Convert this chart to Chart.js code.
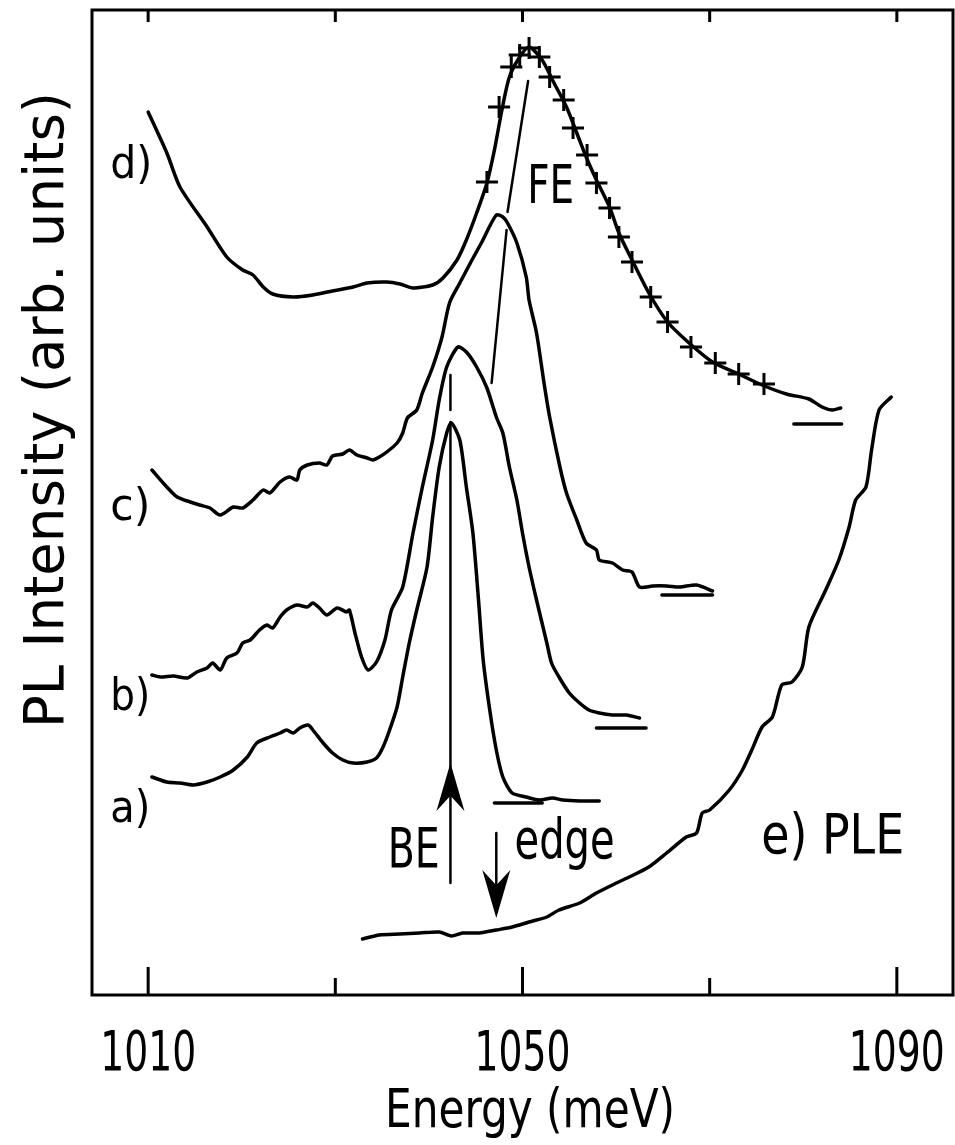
<!DOCTYPE html>
<html>
<head>
<meta charset="utf-8">
<script src="https://cdn.jsdelivr.net/npm/chart.js@4.4.1/dist/chart.umd.min.js"></script>
<style>
  html, body { margin: 0; padding: 0; background: #fff; overflow: hidden; }
  canvas { display: block; }
</style>
</head>
<body>
<canvas id="pl" width="955" height="1145"></canvas>
<script>
// energy in meV, intensity in arbitrary units (0 = bottom of the frame)
const tickValues = [1010, 1030, 1050, 1070, 1090];
const labeledTicks = [1010, 1050, 1090];

const curveA = [[1010.4,21.8],[1012.0,21.3],[1013.4,21.2],[1014.8,21.0],[1016.3,21.3],[1017.7,21.8],
  [1019.1,22.5],[1020.6,23.8],[1021.6,25.2],[1023.0,25.8],[1024.1,26.2],[1024.8,26.5],[1025.5,26.2],
  [1026.2,26.7],[1027.1,27.0],[1027.6,26.5],[1028.7,25.2],[1029.7,24.2],[1030.8,23.5],[1031.9,23.2],
  [1033.4,23.3],[1034.4,23.7],[1035.1,24.8],[1035.8,26.5],[1036.6,28.8],[1037.2,31.8],[1037.9,35.2],
  [1038.7,38.5],[1039.8,42.8],[1040.4,47.8],[1041.1,52.8],[1041.9,56.2],[1042.4,57.2],[1043.3,55.5],
  [1044.0,50.8],[1044.7,46.2],[1045.3,39.5],[1045.8,33.5],[1046.5,28.5],[1047.2,24.5],[1047.9,21.8],
  [1048.9,20.2],[1050.4,19.8],[1051.8,19.5],[1053.2,19.7],[1054.3,19.5],[1056.1,19.4],[1058.2,19.4]];

const curveB = [[1010.4,32.0],[1011.3,31.8],[1012.7,31.9],[1014.2,31.7],[1015.2,32.3],[1016.3,32.7],
  [1016.9,33.2],[1017.7,32.5],[1018.4,33.7],[1019.5,34.2],[1020.1,35.2],[1020.9,35.5],[1021.9,36.5],
  [1022.7,37.0],[1023.3,36.7],[1024.1,37.8],[1024.8,38.5],[1025.9,39.0],[1027.0,38.8],[1027.6,39.2],
  [1028.3,38.7],[1029.1,38.0],[1030.2,38.7],[1031.2,38.3],[1031.5,38.5],[1032.1,36.2],[1032.8,33.8],
  [1033.5,32.5],[1034.4,33.3],[1035.3,35.5],[1036.0,38.5],[1037.2,40.8],[1038.3,46.2],[1039.3,50.8],
  [1040.4,55.5],[1041.1,59.5],[1041.9,62.8],[1043.1,64.8],[1044.0,64.3],[1045.1,62.8],[1046.2,60.7],
  [1047.2,57.8],[1047.9,56.2],[1048.6,52.8],[1049.4,49.5],[1050.0,46.2],[1050.7,42.8],[1051.5,39.5],
  [1052.6,35.2],[1053.1,33.2],[1053.9,31.8],[1055.0,30.2],[1056.1,29.2],[1057.1,28.5],[1058.2,28.2],
  [1059.6,28.0],[1061.1,28.0],[1062.5,27.7]];

const curveC = [[1010.4,52.5],[1012.0,50.8],[1013.1,49.8],[1014.5,49.3],[1015.5,49.0],[1016.6,48.7],
  [1017.7,48.0],[1019.1,48.8],[1020.1,48.7],[1021.2,49.5],[1022.3,50.5],[1023.0,50.2],[1024.1,51.3],
  [1025.1,51.8],[1025.9,51.5],[1026.2,52.5],[1027.0,53.0],[1028.3,53.2],[1029.1,53.0],[1029.7,53.9],
  [1030.8,54.1],[1031.5,54.5],[1032.3,54.0],[1033.4,53.7],[1034.0,53.5],[1034.7,53.8],[1035.5,54.3],
  [1036.6,55.2],[1037.2,56.2],[1037.7,57.7],[1038.7,58.5],[1039.3,60.2],[1040.4,62.8],[1041.4,65.8],
  [1042.2,69.2],[1043.3,71.2],[1044.6,73.5],[1045.6,75.2],[1047.2,78.0],[1047.9,77.8],[1048.4,77.2],
  [1049.4,75.2],[1050.4,71.8],[1050.7,69.5],[1051.5,66.2],[1052.3,61.2],[1052.9,57.8],[1054.0,52.8],
  [1054.7,50.2],[1055.8,47.5],[1056.8,45.2],[1057.9,44.5],[1058.2,43.5],[1059.6,43.2],[1060.7,42.5],
  [1061.7,42.3],[1062.5,40.8],[1063.9,40.9],[1065.4,40.9],[1066.8,40.8],[1068.6,41.0],[1070.3,40.4]];

const curveD = [[1010.0,88.3],[1012.0,84.2],[1013.4,80.8],[1016.3,76.8],[1018.4,73.8],[1020.1,72.5],
  [1021.2,72.0],[1022.3,70.8],[1023.3,70.1],[1025.5,69.8],[1027.6,70.0],[1029.7,70.4],[1031.9,70.8],
  [1033.4,71.2],[1035.5,71.3],[1036.9,71.1],[1038.3,70.7],[1040.4,71.0],[1041.5,71.7],[1043.0,73.5],
  [1044.0,75.5],[1045.1,78.2],[1046.2,81.2],[1047.0,84.5],[1047.8,88.5],[1048.6,91.8],[1049.7,93.8],
  [1050.7,94.8],[1052.1,93.5],[1053.2,91.5],[1054.7,88.8],[1055.8,86.2],[1056.8,83.8],[1057.9,81.5],
  [1059.3,78.8],[1060.3,76.2],[1061.7,73.5],[1063.5,70.2],[1065.5,67.3],[1067.8,65.2],[1070.3,63.3],
  [1073.1,62.1],[1075.6,61.0],[1078.2,60.1],[1080.6,59.6],[1082.0,58.8],[1083.1,58.5],[1084.0,58.7]];

const fitD = [[1046.2,81.3],[1047.5,88.8],[1048.8,92.8],[1049.7,94.0],[1050.7,94.7],[1051.8,93.8],
  [1052.9,91.8],[1054.4,89.5],[1055.4,86.7],[1056.9,84.0],[1057.9,81.2],[1059.3,78.7],[1060.3,75.8],
  [1061.7,73.3],[1063.7,69.8],[1065.5,67.3],[1068.0,64.8],[1070.6,63.2],[1073.1,62.1],[1075.8,61.1]];

const curveE = [[1032.9,5.6],[1034.7,6.0],[1036.9,6.1],[1039.0,6.2],[1041.1,6.3],[1042.4,5.9],
  [1043.6,6.2],[1045.4,6.2],[1047.2,6.5],[1048.9,6.8],[1050.7,7.3],[1052.6,7.8],[1053.9,8.5],
  [1056.1,9.2],[1057.9,10.2],[1059.6,11.0],[1061.4,11.8],[1063.5,12.8],[1065.4,14.2],[1067.5,15.8],
  [1068.6,16.2],[1069.2,18.2],[1070.0,18.5],[1072.1,20.5],[1073.5,22.5],[1074.5,24.5],[1075.6,26.8],
  [1076.7,27.8],[1077.7,31.0],[1078.8,31.3],[1079.9,32.8],[1080.6,36.8],[1082.4,40.5],[1083.8,43.5],
  [1084.9,46.8],[1085.6,49.5],[1086.7,50.8],[1087.3,54.5],[1088.1,58.5],[1089.4,59.8]];

// zero levels under each spectrum
const zeroA = [[1047.0,19.2],[1052.1,19.2]];
const zeroB = [[1057.9,26.7],[1063.2,26.7]];
const zeroC = [[1064.9,40.0],[1070.3,40.0]];
const zeroD = [[1079.0,57.1],[1084.1,57.1]];

// peak markers and arrows
const feUpper = [[1050.6,91.4],[1048.4,78.3]];
const feLower = [[1048.3,76.5],[1046.7,61.2]];
const beTick = [[1042.3,62.0],[1042.3,58.5]];
const beShaft = [[1042.3,57.3],[1042.3,11.2]];
const edgeShaft = [[1047.2,16.2],[1047.2,9.0]];
const arrowHeads = [{x: 1042.3, y: 23.2, dir: 1}, {x: 1047.2, y: 7.7, dir: -1}];

const FAMILY = "'Liberation Sans Narrow', 'DejaVu Sans Condensed', 'Liberation Sans', sans-serif";

// text labels: left edge energy, baseline intensity, cap height px, width px
const labels = [
  {text: 'd)', x: 1005.95, y: 81.7, cap: 32, w: 42},
  {text: 'c)', x: 1005.95, y: 47.5, cap: 32, w: 40},
  {text: 'b)', x: 1005.95, y: 28.5, cap: 32, w: 40},
  {text: 'a)', x: 1005.95, y: 17.3, cap: 32, w: 40},
  {text: 'FE', x: 1050.5, y: 79.2, cap: 38, w: 47},
  {text: 'BE', x: 1035.6, y: 12.8, cap: 40, w: 52},
  {text: 'edge', x: 1049.15, y: 13.7, cap: 40, w: 100},
  {text: 'e) PLE', x: 1075.5, y: 14.2, cap: 40, w: 143}
];

const pts = arr => arr.map(p => ({x: p[0], y: p[1]}));

function curve(data, width) {
  return {
    data: pts(data), borderColor: '#000', borderWidth: width || 3.5,
    pointRadius: 0, tension: 0.25, fill: false, borderCapStyle: 'round', borderJoinStyle: 'round'
  };
}

function fitText(ctx, text, left, base, cap, width, vertical) {
  ctx.save();
  ctx.font = (cap / 0.72).toFixed(1) + 'px ' + FAMILY;
  const w = ctx.measureText(text).width;
  ctx.translate(left, base);
  if (vertical) ctx.rotate(-Math.PI / 2);
  ctx.scale(width / w, 1);
  ctx.textAlign = 'left';
  ctx.textBaseline = 'alphabetic';
  ctx.fillStyle = '#000';
  ctx.fillText(text, 0, 0);
  ctx.restore();
}

const decorations = {
  id: 'decorations',
  afterDatasetsDraw(chart) {
    const {ctx, chartArea: a, scales: {x, y}} = chart;
    ctx.save();
    ctx.strokeStyle = '#000';
    ctx.fillStyle = '#000';
    ctx.lineWidth = 3;
    ctx.strokeRect(a.left, a.top, a.right - a.left, a.bottom - a.top);

    x.ticks.forEach(t => {
      const px = x.getPixelForValue(t.value);
      const major = labeledTicks.includes(t.value);
      const len = major ? 28 : 17;
      ctx.beginPath();
      ctx.moveTo(px, a.bottom);
      ctx.lineTo(px, a.bottom - len);
      ctx.moveTo(px, a.top);
      ctx.lineTo(px, a.top + 12);
      ctx.stroke();
      if (major) fitText(ctx, String(t.value), px - 48, a.bottom + 75, 40, 96, false);
    });

    arrowHeads.forEach(h => {
      const px = x.getPixelForValue(h.x);
      const py = y.getPixelForValue(h.y);
      const L = 48, hw = 14;
      ctx.beginPath();
      ctx.moveTo(px, py);
      ctx.lineTo(px - hw, py + h.dir * L);
      ctx.lineTo(px, py + h.dir * L * 0.68);
      ctx.lineTo(px + hw, py + h.dir * L);
      ctx.closePath();
      ctx.fill();
    });

    labels.forEach(l => {
      fitText(ctx, l.text, x.getPixelForValue(l.x), y.getPixelForValue(l.y), l.cap, l.w, false);
    });

    // axis titles
    fitText(ctx, 'Energy (meV)', 385, a.bottom + 132, 39, 290, false);
    fitText(ctx, 'PL Intensity (arb. units)', 63, 728, 40, 636, true);
    ctx.restore();
  }
};

const fitStyle = {
  data: pts(fitD), showLine: false, pointStyle: 'cross', pointRadius: 11,
  borderColor: '#000', borderWidth: 3
};

new Chart(document.getElementById('pl'), {
  type: 'line',
  data: {
    datasets: [
      curve(curveA), curve(curveB), curve(curveC), curve(curveD), curve(curveE),
      fitStyle,
      curve(zeroA), curve(zeroB), curve(zeroC), curve(zeroD),
      curve(feUpper, 2.5), curve(feLower, 2.5), curve(beTick, 2.5),
      curve(beShaft, 2.5), curve(edgeShaft, 2.5)
    ]
  },
  options: {
    responsive: false,
    animation: false,
    layout: {autoPadding: false, padding: {top: 10, right: 2, left: 0, bottom: 0}},
    plugins: {legend: {display: false}, tooltip: {enabled: false}},
    scales: {
      x: {
        type: 'linear', min: 1004, max: 1096,
        afterBuildTicks: s => { s.ticks = tickValues.map(v => ({value: v})); },
        afterFit: s => { s.height = 150; s.paddingLeft = 0; s.paddingRight = 0; },
        grid: {display: false, drawTicks: false},
        border: {display: false},
        ticks: {display: false}
      },
      y: {
        type: 'linear', min: 0, max: 98.5,
        afterFit: s => { s.width = 92; },
        grid: {display: false, drawTicks: false},
        border: {display: false},
        ticks: {display: false}
      }
    }
  },
  plugins: [decorations]
});
</script>
</body>
</html>
